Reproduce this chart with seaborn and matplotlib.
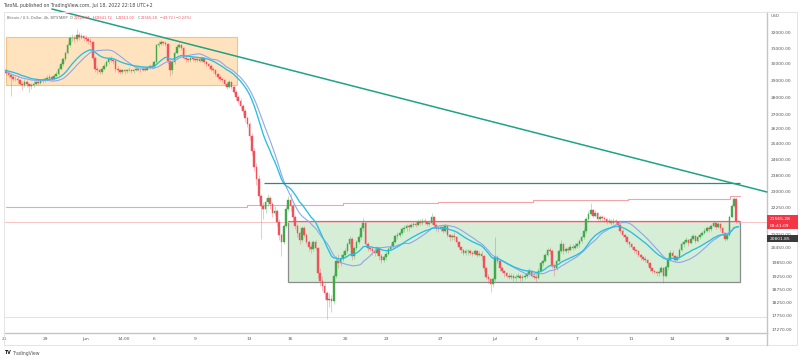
import numpy as np
import pandas as pd
import matplotlib
matplotlib.use("Agg")
import matplotlib.pyplot as plt
import seaborn as sns
from matplotlib.patches import Rectangle
from matplotlib.lines import Line2D
from matplotlib.ticker import NullLocator

sns.set_style("white")
plt.rcParams['font.family'] = ['DejaVu Sans']

# BTC/USD 4h bars, May 26 00:00 -> Jul 18 20:00 (one row = one day, 6 bars)
first_open = 29650
close = [
    29600, 29450, 29300, 29200, 29050, 29100,  # May 26
    29000, 28800, 28700, 28900, 28750, 28650,  # May 27
    28700, 28800, 28900, 28850, 28950, 29000,  # May 28
    29050, 29150, 29200, 29100, 29250, 29400,  # May 29
    29700, 30000, 30300, 30700, 31200, 31650,  # May 30
    31700, 31600, 31900, 31750, 31800, 31700,  # May 31
    31600, 31500, 31400, 30400, 29700, 29600,  # Jun 1
    29500, 29700, 29900, 30100, 30300, 30250,  # Jun 2
    30200, 29700, 29600, 29500, 29600, 29550,  # Jun 3
    29600, 29650, 29550, 29600, 29700, 29650,  # Jun 4
    29600, 29700, 29650, 29750, 29900, 29800,  # Jun 5
    30100, 31200, 31300, 31400, 31350, 31300,  # Jun 6
    30200, 29600, 30100, 30700, 31100, 31200,  # Jun 7
    31000, 30400, 30300, 30250, 30350, 30300,  # Jun 8
    30250, 30300, 30200, 30350, 30100, 30000,  # Jun 9
    29900, 29700, 29600, 29400, 29200, 29100,  # Jun 10
    29000, 28800, 28600, 28900, 28600, 28300,  # Jun 11
    28000, 27800, 27500, 27200, 26800, 26500,  # Jun 12
    25800, 25000, 24200, 23600, 22800, 22300,  # Jun 13
    22200, 22500, 22700, 22400, 22000, 22100,  # Jun 14
    21600, 21000, 20700, 21400, 22200, 22600,  # Jun 15
    22300, 21800, 21400, 21100, 20800, 21300,  # Jun 16
    21000, 20700, 20500, 20400, 20700, 20450,  # Jun 17
    19400, 19100, 18900, 18600, 18350, 18400,  # Jun 18
    18300, 19300, 19900, 19800, 20000, 20150,  # Jun 19
    20300, 20600, 20850, 20100, 20450, 20700,  # Jun 20
    20900, 21300, 21550, 20600, 20450, 20400,  # Jun 21
    20300, 20250, 20450, 20100, 19950, 20050,  # Jun 22
    20200, 20400, 20500, 20700, 20950, 21000,  # Jun 23
    21100, 21250, 21300, 21400, 21350, 21450,  # Jun 24
    21500, 21450, 21600, 21550, 21650, 21600,  # Jun 25
    21500, 21550, 21800, 21450, 21300, 21250,  # Jun 26
    21350, 21200, 21400, 21000, 20900, 20950,  # Jun 27
    20900, 20700, 20500, 20350, 20250, 20300,  # Jun 28
    20300, 20250, 20200, 20300, 20150, 20200,  # Jun 29
    20100, 19600, 19250, 19150, 18950, 19150,  # Jun 30
    20050, 19900, 19600, 19500, 19400, 19300,  # Jul 1
    19250, 19300, 19200, 19250, 19300, 19200,  # Jul 2
    19250, 19300, 19350, 19500, 19300, 19250,  # Jul 3
    19200, 19500, 19800, 19900, 20150, 20350,  # Jul 4
    20300, 19700, 19600, 19900, 20300, 20600,  # Jul 5
    20300, 20400, 20350, 20500, 20450, 20550,  # Jul 6
    20600, 20750, 20900, 21200, 21700, 21950,  # Jul 7
    22150, 21850, 22000, 21700, 21800, 21750,  # Jul 8
    21700, 21600, 21650, 21550, 21650, 21600,  # Jul 9
    21450, 21200, 21000, 20900, 20700, 20600,  # Jul 10
    20500, 20350, 20300, 20150, 20050, 20000,  # Jul 11
    19950, 19800, 19600, 19500, 19450, 19400,  # Jul 12
    19450, 19600, 19300, 19650, 19950, 20250,  # Jul 13
    20100, 19950, 20050, 20350, 20600, 20700,  # Jul 14
    20800, 20650, 20850, 20950, 20750, 20900,  # Jul 15
    21000, 21100, 21200, 21300, 21250, 21400,  # Jul 16
    21550, 21350, 21500, 21300, 21100, 20850,  # Jul 17
    21000, 21800, 22300, 22650, 21620.05, 21565.28,  # Jul 18
]
high = [
    29800, 29700, 29550, 29400, 29300, 29250,
    29250, 29100, 28950, 29050, 29000, 28850,
    28850, 28950, 29050, 29000, 29100, 29150,
    29200, 29300, 29350, 29300, 29400, 29550,
    29850, 30150, 30450, 30850, 31400, 31800,
    31950, 31850, 32250, 32100, 32000, 31900,
    31850, 31750, 31650, 31500, 30500, 29900,
    29750, 29850, 30050, 30250, 30450, 30500,
    30400, 30300, 29850, 29700, 29700, 29700,
    29700, 29800, 29700, 29700, 29800, 29800,
    29750, 29800, 29800, 29850, 30000, 30000,
    30250, 31300, 31450, 31550, 31500, 31450,
    31350, 30300, 30200, 30800, 31250, 31350,
    31300, 31100, 30500, 30400, 30450, 30450,
    30400, 30400, 30350, 30450, 30400, 30200,
    30050, 30000, 29800, 29650, 29450, 29300,
    29200, 29100, 28900, 29000, 28950, 28700,
    28400, 28150, 27950, 27600, 27300, 26900,
    26600, 26000, 25200, 24400, 23800, 22900,
    22500, 22700, 22900, 22800, 22500, 22300,
    22200, 21700, 21100, 21500, 22300, 22800,
    22950, 22400, 21900, 21500, 21200, 21400,
    21400, 21100, 20800, 20600, 20800, 20800,
    20500, 19600, 19300, 19000, 18700, 18600,
    18550, 19400, 20100, 20200, 20200, 20300,
    20450, 20700, 20950, 20900, 20550, 20800,
    21050, 21400, 21750, 21600, 20700, 20550,
    20500, 20400, 20550, 20500, 20200, 20150,
    20300, 20500, 20650, 20800, 21050, 21150,
    21200, 21350, 21450, 21500, 21500, 21550,
    21600, 21600, 21700, 21700, 21750, 21750,
    21650, 21650, 22000, 21850, 21500, 21400,
    21450, 21400, 21500, 21450, 21050, 21050,
    21150, 20950, 20750, 20550, 20400, 20400,
    20400, 20400, 20300, 20400, 20350, 20300,
    20300, 20150, 19700, 19350, 19200, 19250,
    20900, 20150, 19950, 19700, 19550, 19450,
    19400, 19400, 19350, 19350, 19400, 19350,
    19350, 19400, 19450, 19600, 19550, 19400,
    19350, 19600, 19900, 20000, 20250, 20450,
    20500, 20400, 19800, 20000, 20400, 20800,
    20650, 20500, 20500, 20600, 20600, 20650,
    20700, 20850, 21000, 21300, 21800, 22100,
    22450, 22200, 22150, 22050, 21900, 21900,
    21850, 21750, 21750, 21700, 21750, 21700,
    21650, 21500, 21250, 21050, 20950, 20750,
    20650, 20550, 20400, 20350, 20200, 20100,
    20100, 20000, 19850, 19650, 19550, 19500,
    19550, 19700, 19650, 19750, 20050, 20350,
    20350, 20150, 20150, 20450, 20700, 20800,
    20900, 20850, 20950, 21050, 21000, 21000,
    21100, 21200, 21300, 21400, 21400, 21500,
    21650, 21600, 21600, 21550, 21350, 21150,
    21100, 21900, 22400, 22750, 22700, 21641.72,
]
low = [
    29450, 29300, 29150, 28050, 28950, 28950,
    28850, 28700, 28400, 28600, 28600, 28300,
    28500, 28600, 28700, 28700, 28750, 28850,
    28900, 28950, 29050, 28950, 29050, 29200,
    29300, 29600, 29900, 30200, 30600, 31100,
    31450, 31400, 31500, 31550, 31600, 31450,
    31400, 31300, 31200, 30200, 29500, 29400,
    29350, 29400, 29600, 29800, 30000, 30100,
    30000, 29500, 29450, 29350, 29400, 29400,
    29450, 29500, 29450, 29450, 29550, 29550,
    29500, 29550, 29550, 29600, 29700, 29700,
    29750, 30050, 31100, 31200, 31200, 31150,
    30000, 29250, 29400, 30000, 30600, 31000,
    30900, 30300, 30150, 30100, 30150, 30200,
    30150, 30150, 30100, 30150, 30000, 29900,
    29800, 29550, 29450, 29250, 29050, 28950,
    28900, 28650, 28450, 28550, 28450, 28200,
    27850, 27600, 27300, 27000, 26600, 26300,
    25600, 24800, 24000, 23300, 22500, 20850,
    21700, 22000, 22300, 22200, 21800, 21900,
    21400, 20800, 20100, 20600, 21300, 22100,
    22100, 21600, 21250, 20900, 20600, 20700,
    20900, 20600, 20300, 20250, 20300, 20350,
    19200, 18900, 18700, 18400, 17650, 18100,
    17900, 18200, 19200, 19600, 19700, 19900,
    20050, 20250, 20500, 19950, 20000, 20350,
    20600, 20850, 21200, 20500, 20300, 20300,
    20150, 20100, 20150, 19950, 19800, 19850,
    19950, 20150, 20350, 20450, 20650, 20850,
    20900, 21000, 21150, 21200, 21200, 21300,
    21350, 21350, 21400, 21450, 21450, 21500,
    21400, 21400, 21500, 21350, 21200, 21150,
    21200, 21100, 21150, 20900, 20750, 20800,
    20800, 20600, 20400, 20250, 20150, 20150,
    20150, 20150, 20100, 20150, 20050, 20100,
    19950, 19500, 19150, 19000, 18650, 18850,
    19100, 19800, 19500, 19400, 19250, 19200,
    19150, 19150, 19100, 19100, 19200, 19100,
    19100, 19150, 19200, 19300, 19250, 19150,
    19050, 19150, 19450, 19700, 19850, 20100,
    20200, 19600, 19300, 19550, 19850, 20250,
    20200, 20250, 20250, 20300, 20350, 20400,
    20450, 20500, 20650, 20850, 21100, 21600,
    21900, 21750, 21800, 21600, 21650, 21650,
    21600, 21500, 21550, 21450, 21500, 21500,
    21350, 21100, 20900, 20750, 20600, 20500,
    20400, 20250, 20200, 20050, 19950, 19900,
    19850, 19700, 19500, 19400, 19350, 19300,
    19300, 19400, 19000, 19250, 19550, 19900,
    20000, 19850, 19900, 20000, 20300, 20500,
    20650, 20550, 20600, 20800, 20650, 20700,
    20850, 20950, 21050, 21150, 21150, 21200,
    21350, 21250, 21300, 21200, 21000, 20750,
    20800, 20950, 21750, 22250, 21550, 21513.00,
]

# drawings (x in days since May 29 00:00)
orange_box = (-2.85, 14.11, 28715, 31734)
green_box = (17.84, 50.95, 19050, 21632)
resist_level = 23412
resist_start = 16.08
trend_pts = ([0.51, 52.92], [33641, 22976])
low_ray = 17710
step_days = [-2.85, 14.84, 21.86, 28.8, 35.8, 42.7, 50.2, 50.95]
step_vals = [22273, 22362, 22455, 22525, 22597, 22644, 22786, 22786]
last_price = 21565.28
ma_label = 20801.85

# 21650 sits under the red last-price tag in the reference, so it is not labelled
price_ticks = [32000, 31000, 30000, 29000, 28000, 27000, 26200, 25400, 24600,
               23800, 23000, 22250, 21050, 20450, 19850, 19250, 18750,
               18250, 17750, 17270]
date_ticks = [-3, 0, 3, 5.75, 8, 11, 15, 18, 22, 25, 29, 33, 36, 39, 43, 46, 50]
date_labels = ["26", "29", "Jun", "14:00", "6", "9", "13", "16", "20", "23", "27",
               "Jul", "4", "7", "11", "14", "18"]

UP = "#43a849"
DOWN = "#f0525d"
W, H = 800, 361

opens = [first_open] + close[:-1]
df = pd.DataFrame({"open": opens, "close": close, "high": high, "low": low})
df["t"] = -3 + np.arange(len(df)) / 6
df["sma"] = df["close"].rolling(20, min_periods=1).mean()
df["ema"] = df["close"].ewm(span=20, adjust=False).mean()

fig = plt.figure(figsize=(W / 100, H / 100), dpi=100)
ax = fig.add_axes([4 / W, 1 - 333 / H, 763 / W, 321 / H])
ax.set_yscale("log")
ax.set_xlim(-2.85, 52.92)
ax.set_ylim(17128, 33431)

# zones
x0, x1, y0, y1 = orange_box
ax.add_patch(Rectangle((x0, y0), x1 - x0, y1 - y0, fc="#ffe3bf", ec="#f7c27e", lw=0.8, zorder=1))
x0, x1, y0, y1 = green_box
ax.add_patch(Rectangle((x0, y0), x1 - x0, y1 - y0, fc="#d6edd6", ec="#8c8c8c", lw=0.9, zorder=1))
ax.axhline(low_ray, color="#e2e2e2", lw=0.7, zorder=1)
ax.axhline(last_price, color="#f7b9b9", lw=0.6, zorder=2)
ax.step(step_days, step_vals, where="post", color="#f4a3a6", lw=0.8, zorder=2)

# candles
up = df["close"] >= df["open"]
cols = np.where(up, UP, DOWN)
ax.vlines(df["t"], df["low"], df["high"], colors=cols, alpha=0.4, lw=0.6, zorder=3)
lo = np.minimum(df["open"], df["close"])
hi = np.maximum(df["open"], df["close"])
ax.bar(df["t"], hi - lo, bottom=lo, width=0.12, color=cols, edgecolor=cols, lw=0.3, zorder=4)

# moving averages
sns.lineplot(data=df, x="t", y="sma", ax=ax, color="#8fa6ec", lw=0.8, zorder=5)
sns.lineplot(data=df, x="t", y="ema", ax=ax, color="#27bfe0", lw=0.95, zorder=5)

ax.hlines(resist_level, resist_start, green_box[1], color="#2e8b78", lw=0.9, zorder=6)
ax.plot(trend_pts[0], trend_pts[1], color="#1fa286", lw=1.1, zorder=6, clip_on=False)

ax.set_xlabel("")
ax.set_ylabel("")
ax.set_yticks(price_ticks, [f"{v:.2f}" for v in price_ticks])
ax.yaxis.set_minor_locator(NullLocator())
ax.set_xticks(date_ticks, date_labels)
ax.yaxis.tick_right()
ax.tick_params(axis="y", length=0, pad=3, labelsize=3.2, labelcolor="#555555")
ax.tick_params(axis="x", length=0, pad=3, labelsize=3.2, labelcolor="#555555")
for s in ["top", "left"]:
    ax.spines[s].set_visible(False)
for s in ["right", "bottom"]:
    ax.spines[s].set_color("#c4c4c4")
    ax.spines[s].set_linewidth(1.0)

def fx(px):
    return px / W

def fy(py):
    return 1 - py / H

fig.add_artist(Rectangle((fx(4), fy(345)), 793 / W, 333 / H, transform=fig.transFigure,
                         fill=False, ec="#e4e4e4", lw=0.7))
fig.add_artist(Line2D([fx(767), fx(767)], [fy(345), fy(333)], color="#c4c4c4", lw=1.0))

# price tags on the scale
fig.add_artist(Rectangle((fx(767), fy(229)), 31 / W, 14 / H, transform=fig.transFigure,
                         fc="#f23645", ec="none", zorder=10))
fig.text(fx(770), fy(219), f"{last_price:.2f}", color="white", size=3.2, va="center", zorder=11)
fig.text(fx(770), fy(226), "03:41:09", color="white", size=3.2, va="center", zorder=11)
fig.add_artist(Rectangle((fx(767), fy(242)), 31 / W, 7 / H, transform=fig.transFigure,
                         fc="#3a3a3a", ec="none", zorder=10))
fig.text(fx(770), fy(238.5), f"{ma_label:.2f}", color="white", size=3.2, va="center", zorder=11)
fig.text(fx(771), fy(16), "USD", color="#666666", size=3.2, va="center")

# header and legend
fig.text(fx(3), fy(6), "TaroNL published on TradingView.com, Jul 18, 2022 22:18 UTC+2",
         color="#444444", size=3.35, va="center")
legend = [("Bitcoin / U.S. Dollar, 4h, BITSTAMP", "#666666", 2.5),
          ("O", "#666666", 0.6), ("21620.05", DOWN, 2.5),
          ("H", "#666666", 0.6), ("21641.72", DOWN, 2.5),
          ("L", "#666666", 0.6), ("21513.00", DOWN, 2.5),
          ("C", "#666666", 0.6), ("21565.28", DOWN, 2.5),
          ("\u221249.72 (\u22120.23%)", DOWN, 0)]
renderer = fig.canvas.get_renderer()
px = 7
for s, c, gap in legend:
    t = fig.text(fx(px), fy(18), s, color=c, size=2.55, va="center")
    px = t.get_window_extent(renderer).x1 + gap

fig.text(fx(4), fy(353), "TV", color="#131722", size=3.4, weight="bold", va="center")
fig.text(fx(12), fy(353), "TradingView", color="#555555", size=3.3, va="center")

fig.savefig("out.png", dpi=100)
